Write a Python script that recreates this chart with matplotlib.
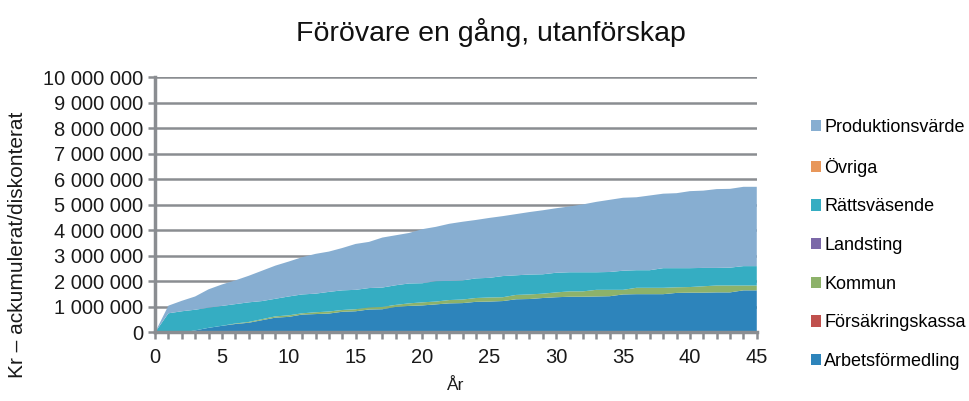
import matplotlib
matplotlib.use("Agg")
import matplotlib.pyplot as plt
from matplotlib.ticker import MultipleLocator, FuncFormatter

plt.rcParams['font.family'] = ['Liberation Sans', 'DejaVu Sans']

# years 0..45, values in millions kr (stacked amounts)
years = list(range(0, 46))

arbetsformedling = [0, 0, 0, 0.08, 0.18, 0.26, 0.33, 0.38, 0.48, 0.58,
                    0.61, 0.70, 0.72, 0.74, 0.81, 0.83, 0.90, 0.91, 1.00, 1.04,
                    1.06, 1.10, 1.14, 1.15, 1.20, 1.21, 1.23, 1.30, 1.31, 1.35,
                    1.38, 1.40, 1.40, 1.41, 1.42, 1.49, 1.50, 1.50, 1.50, 1.55,
                    1.56, 1.56, 1.57, 1.57, 1.65, 1.65]
forsakringskassa = [0] * 46
kommun = [0, 0, 0, 0, 0, 0, 0.02, 0.03, 0.04, 0.05,
          0.06, 0.05, 0.07, 0.08, 0.07, 0.08, 0.08, 0.09, 0.08, 0.10,
          0.12, 0.11, 0.13, 0.14, 0.15, 0.16, 0.15, 0.17, 0.18, 0.17,
          0.19, 0.21, 0.21, 0.26, 0.25, 0.18, 0.25, 0.25, 0.25, 0.22,
          0.22, 0.25, 0.27, 0.27, 0.19, 0.19]
landsting = [0] * 46
rattsvasende = [0, 0.75, 0.83, 0.81, 0.79, 0.78, 0.76, 0.77, 0.71, 0.69,
                0.74, 0.74, 0.73, 0.77, 0.77, 0.76, 0.76, 0.76, 0.77, 0.78,
                0.75, 0.80, 0.75, 0.75, 0.77, 0.77, 0.83, 0.77, 0.78, 0.76,
                0.77, 0.75, 0.75, 0.69, 0.70, 0.75, 0.69, 0.69, 0.77, 0.75,
                0.74, 0.72, 0.69, 0.70, 0.76, 0.76]
ovriga = [0] * 46
produktionsvarde = [0, 0.30, 0.41, 0.52, 0.72, 0.84, 0.93, 1.04, 1.19, 1.30,
                    1.37, 1.46, 1.56, 1.58, 1.66, 1.80, 1.81, 1.96, 1.96, 1.98,
                    2.12, 2.13, 2.24, 2.30, 2.29, 2.35, 2.35, 2.40, 2.45, 2.51,
                    2.53, 2.58, 2.66, 2.76, 2.83, 2.86, 2.86, 2.93, 2.92, 2.94,
                    3.02, 3.03, 3.09, 3.09, 3.11, 3.11]

labels = ['Arbetsförmedling', 'Försäkringskassa', 'Kommun', 'Landsting',
          'Rättsväsende', 'Övriga', 'Produktionsvärde']
colors = ['#2d84bb', '#c0504d', '#8db26a', '#7b68a8',
          '#35adc2', '#e8975a', '#87aed1']

series = [arbetsformedling, forsakringskassa, kommun, landsting,
          rattsvasende, ovriga, produktionsvarde]
series = [[v * 1e6 for v in s] for s in series]

fig = plt.figure(figsize=(9.69, 4.01), dpi=100)
ax = fig.add_axes([0.160, 0.171, 0.621, 0.636])

grid_col = '#8a8d91'
text_col = '#1a1a1a'
ax.stackplot(years, series, labels=labels, colors=colors, linewidth=0)

ax.set_xlim(0, 45)
ax.set_ylim(0, 10000000)
ax.yaxis.set_major_locator(MultipleLocator(1000000))
ax.xaxis.set_major_locator(MultipleLocator(5))
ax.xaxis.set_minor_locator(MultipleLocator(1))
ax.yaxis.set_major_formatter(FuncFormatter(lambda v, p: f"{v:,.0f}".replace(",", " ")))

ax.grid(axis='y', color=grid_col, linewidth=1.8)
ax.set_axisbelow(True)
for side in ['top', 'right']:
    ax.spines[side].set_visible(False)
for side in ['left', 'bottom']:
    ax.spines[side].set_color(grid_col)
    ax.spines[side].set_linewidth(2.5)

ax.tick_params(axis='both', which='both', direction='out', length=5, width=1.8,
               color=grid_col, labelsize=14.5, labelcolor=text_col)
ax.tick_params(axis='x', which='both', pad=6)

ax.set_xlabel('År', fontsize=12.5, color=text_col, labelpad=8)
ax.set_ylabel('Kr – ackumulerat/diskonterat', fontsize=15, color=text_col)
ax.yaxis.set_label_coords(-0.212, 0.342)

fig.text(0.507, 0.918, 'Förövare en gång, utanförskap', ha='center', va='center',
         fontsize=20.5, color='#111111')

handles, labs = ax.get_legend_handles_labels()
fig.legend(handles[::-1], labs[::-1], loc='center left', bbox_to_anchor=(0.829, 0.39),
           frameon=False, fontsize=13, handlelength=0.6, handleheight=0.6,
           handletextpad=0.15, labelspacing=1.2, borderaxespad=0)

fig.savefig('out.png', dpi=100)
